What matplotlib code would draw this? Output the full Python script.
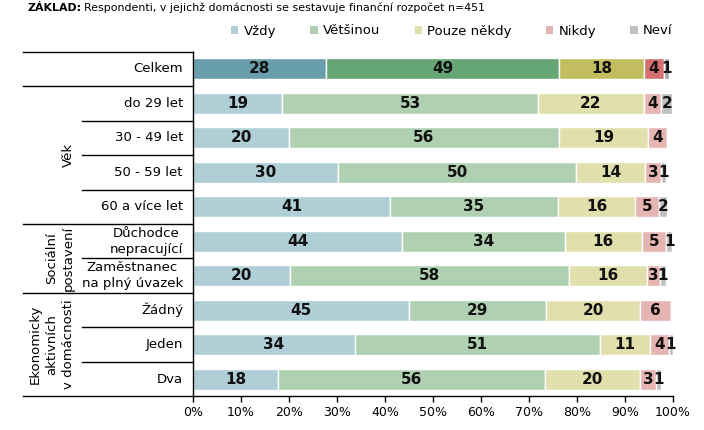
import numpy as np
import matplotlib
matplotlib.use("Agg")
import matplotlib.pyplot as plt
from matplotlib.patches import Patch

plt.rcParams["font.family"] = ["DejaVu Sans"]

# --- data (percent shares) ---
categories = ["Celkem", "do 29 let", "30 - 49 let", "50 - 59 let", "60 a více let",
              "Důchodce\nnepracující", "Zaměstnanec\nna plný úvazek",
              "Žádný", "Jeden", "Dva"]
series_names = ["Vždy", "Většinou", "Pouze někdy", "Nikdy", "Neví"]
vzdy = [27.7, 18.6, 20.0, 30.2, 41.0, 43.6, 20.2, 45.0, 33.8, 17.7]
vetsinou = [48.6, 53.2, 56.2, 49.6, 35.1, 33.8, 58.1, 28.6, 50.9, 55.6]
pouze_nekdy = [17.6, 22.2, 18.6, 14.4, 15.9, 16.2, 16.3, 19.6, 10.6, 19.8]
nikdy = [4.2, 3.6, 3.9, 3.3, 5.1, 5.0, 2.7, 6.3, 3.8, 3.4]
nevi = [1.0, 2.2, 0.0, 1.0, 1.7, 1.2, 1.2, 0.0, 0.8, 1.1]
groups = [("Věk", 1, 4, 68), ("Sociální\npostavení", 5, 6, 60),
          ("Ekonomicky\naktivních\nv domácnosti", 7, 9, 52)]
xticks = [0, 10, 20, 30, 40, 50, 60, 70, 80, 90, 100]

colors_light = ["#b0ced6", "#afd1b1", "#e1e0ac", "#e6b5b2", "#c0c0c0"]
colors_dark = ["#699fad", "#66a675", "#c2be5f", "#d4706f", "#a3a3a3"]

W, H = 704, 430
fig = plt.figure(figsize=(W / 100, H / 100), dpi=100)
ax = fig.add_axes([193 / W, 1 - 396.3 / H, 480 / W, (396.3 - 51.7) / H])

series = [vzdy, vetsinou, pouze_nekdy, nikdy, nevi]
y = np.arange(len(categories))
left = np.zeros(len(categories))
for k, vals in enumerate(series):
    vals = np.array(vals)
    cols = [colors_dark[k] if i == 0 else colors_light[k] for i in range(len(categories))]
    ax.barh(y, vals, left=left, height=0.61, color=cols, edgecolor="white", linewidth=1)
    for i, v in enumerate(vals):
        if v >= 0.5:
            ax.text(left[i] + v / 2, i, f"{v:.0f}", ha="center", va="center",
                    fontsize=11, fontweight="bold", color="#111111")
    left += vals

ax.set_xlim(0, 100)
ax.set_ylim(9.5, -0.5)
ax.set_xticks(xticks)
ax.set_xticklabels([f"{t}%" for t in xticks], fontsize=9)
ax.set_yticks([])
ax.tick_params(axis="x", length=4, width=1, direction="out", pad=3)
for s in ["top", "right"]:
    ax.spines[s].set_visible(False)
ax.spines["left"].set_linewidth(1)
ax.spines["bottom"].set_linewidth(1)

# left-hand table
tr = ax.get_yaxis_transform()
x_outer = (23 - 193) / 480
x_inner = (82 - 193) / 480
outer_lines = [-0.5, 0.5, 4.5, 6.5, 9.5]
inner_lines = [1.5, 2.5, 3.5, 5.5, 7.5, 8.5]
for yy in outer_lines:
    ax.plot([x_outer, 0], [yy, yy], color="black", lw=1, transform=tr, clip_on=False)
for yy in inner_lines:
    ax.plot([x_inner, 0], [yy, yy], color="black", lw=1, transform=tr, clip_on=False)

x_cat = (183 - 193) / 480
for i, c in enumerate(categories):
    ax.text(x_cat, i, c, transform=tr, ha="right", va="center", fontsize=9.5,
            multialignment="center", linespacing=1.3)

for name, a, b, px in groups:
    ax.text((px - 193) / 480, (a + b) / 2, name, transform=tr, ha="center", va="center",
            fontsize=9.5, rotation=90, multialignment="center", linespacing=1.4)

# legend
handles = [Patch(facecolor=c, edgecolor="none") for c in colors_light]
fig.legend(handles, series_names, loc="center left", ncol=5, frameon=False,
           bbox_to_anchor=(231 / W, 1 - 31 / H), fontsize=9.5,
           handlelength=0.55, handleheight=0.55, handletextpad=0.4,
           columnspacing=2.6, borderpad=0, borderaxespad=0)

# heading
t1 = fig.text(27 / W, 1 - 8 / H, "ZÁKLAD:", fontsize=7.9, fontweight="bold",
              ha="left", va="center")
fig.canvas.draw()
bb = t1.get_window_extent()
fig.text(bb.x1 / W + 3 / W, 1 - 8 / H,
         "Respondenti, v jejichž domácnosti se sestavuje finanční rozpočet n=451",
         fontsize=7.9, ha="left", va="center")

fig.savefig("out.png", dpi=100)
